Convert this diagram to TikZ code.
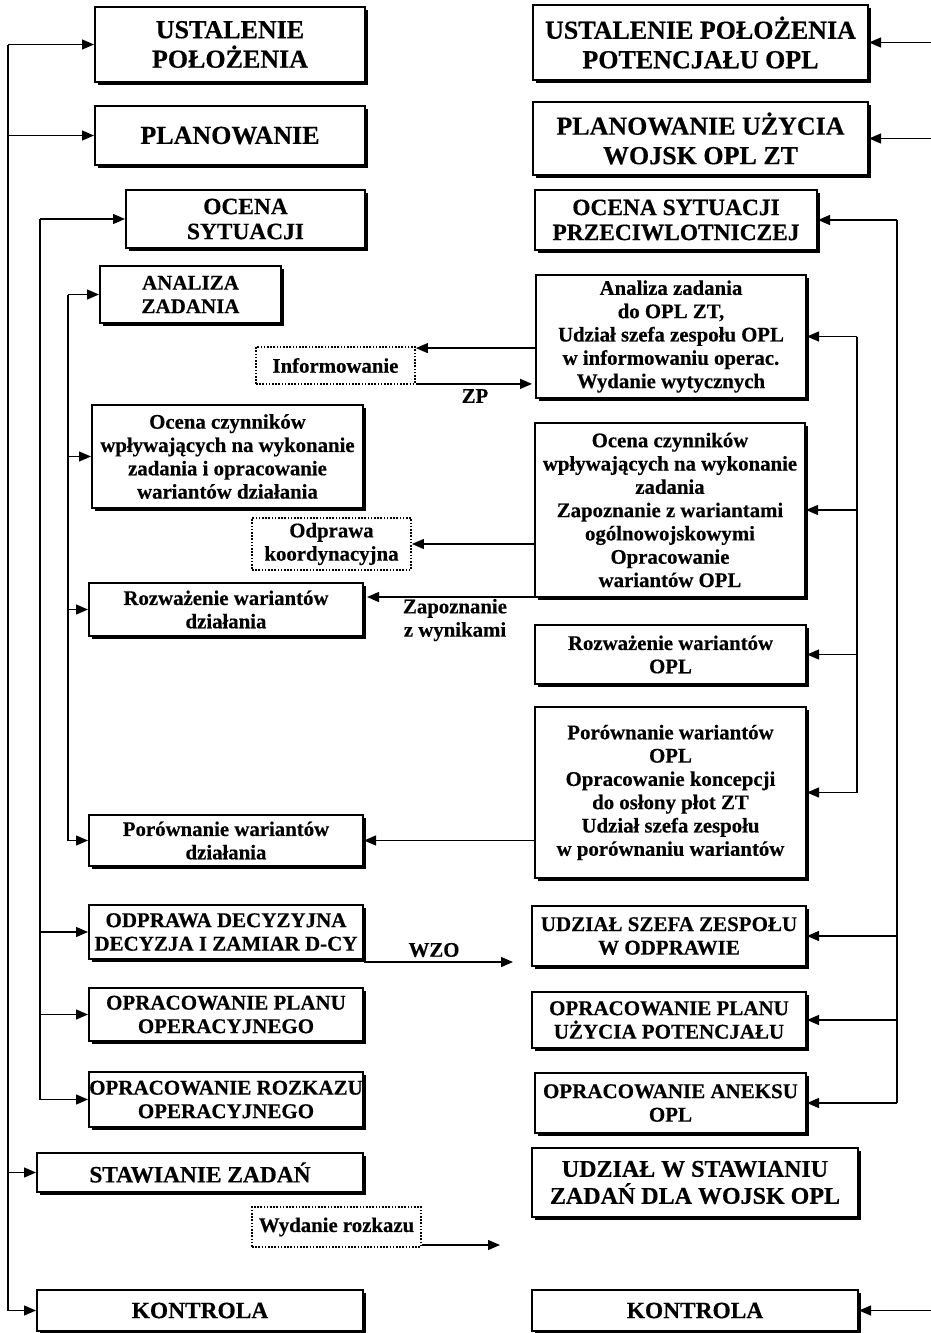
\documentclass[tikz,border=0pt]{standalone}
\usepackage{fontspec}
\setmainfont{Liberation Serif}[BoldFeatures={FakeBold=0.4}]
\usetikzlibrary{arrows.meta,shadows}

% font sizes used in the boxes
\newcommand\szBig{\fontsize{26}{29.5}\selectfont}
\newcommand\szMid{\fontsize{23.4}{25}\selectfont}
\newcommand\szCap{\fontsize{21}{23.5}\selectfont}
\newcommand\szTxt{\fontsize{20.8}{23.3}\selectfont}

\begin{document}
\begin{tikzpicture}[x=1pt,y=-1pt,
  box/.style={draw=black, line width=2pt, fill=white, align=center,
    inner sep=0pt, font=\bfseries,
    general shadow={shadow xshift=2.5pt, shadow yshift=-2.5pt, fill=black, opacity=1}},
  dotbox/.style={draw=black, line width=1.8pt, dash pattern=on 1.6pt off 1.6pt,
    fill=white, align=center, inner sep=0pt, font=\bfseries},
  link/.style={draw=black, line width=1.3pt},
  arr/.style={link, -{Triangle[length=12pt,width=10pt]}},
  lbl/.style={font=\bfseries\szTxt, align=center, inner sep=0pt},
]
\useasboundingbox (0,0) rectangle (930,1333);

% ---------- left column ----------
\node[box, minimum width=270, minimum height=75, font=\bfseries\szBig] (L1) at (230,44.5) {USTALENIE\\POŁOŻENIA};
\node[box, minimum width=270, minimum height=59, font=\bfseries\szBig] (L2) at (230,135.5) {PLANOWANIE};
\node[box, minimum width=239, minimum height=58, font=\bfseries\szMid] (L3) at (245.5,219) {OCENA\\SYTUACJI};
\node[box, minimum width=181, minimum height=57, font=\bfseries\szCap] (L4) at (190.5,294.5) {ANALIZA\\ZADANIA};
\node[dotbox, minimum width=159, minimum height=37, font=\bfseries\szTxt] (L5) at (335.5,365.5) {Informowanie};
\node[box, minimum width=271, minimum height=103, font=\bfseries\szTxt] (L6) at (227.5,456.5) {Ocena czynników\\wpływających na wykonanie\\zadania i opracowanie\\wariantów działania};
\node[dotbox, minimum width=159, minimum height=52, font=\bfseries\szTxt] (L7) at (331.5,544) {Odprawa\\koordynacyjna};
\node[box, minimum width=274, minimum height=53, font=\bfseries\szTxt] (L8) at (226,609.5) {Rozważenie wariantów\\działania};
\node[box, minimum width=274, minimum height=51, font=\bfseries\szTxt] (L9) at (226,840.5) {Porównanie wariantów\\działania};
\node[box, minimum width=274, minimum height=54, font=\bfseries\szCap] (L10) at (226,932) {ODPRAWA DECYZYJNA\\DECYZJA I ZAMIAR D-CY};
\node[box, minimum width=274, minimum height=53, font=\bfseries\szCap] (L11) at (226,1014.5) {OPRACOWANIE PLANU\\OPERACYJNEGO};
\node[box, minimum width=274, minimum height=55, font=\bfseries\szCap] (L12) at (226,1099.5) {OPRACOWANIE ROZKAZU\\OPERACYJNEGO};
\node[box, minimum width=326, minimum height=39, font=\bfseries\szMid] (L13) at (200,1172.5) {STAWIANIE ZADAŃ};
\node[dotbox, minimum width=169, minimum height=40, font=\bfseries\szTxt] (L14) at (336.5,1227) {Wydanie rozkazu};
\node[box, minimum width=326, minimum height=41, font=\bfseries\szMid] (L15) at (200,1310.5) {KONTROLA};

% ---------- right column ----------
\node[box, minimum width=335, minimum height=75, font=\bfseries\szBig] (R1) at (700.5,42.5) {USTALENIE POŁOŻENIA\\POTENCJAŁU OPL};
\node[box, minimum width=335, minimum height=73, font=\bfseries\szBig] (R2) at (700.5,138.5) {PLANOWANIE UŻYCIA\\WOJSK OPL ZT};
\node[box, minimum width=282, minimum height=60, font=\bfseries\szMid] (R3) at (676,220) {OCENA SYTUACJI\\PRZECIWLOTNICZEJ};
\node[box, minimum width=270, minimum height=123, font=\bfseries\szTxt] (R4) at (671,336.5) {Analiza zadania\\do OPL ZT,\\Udział szefa zespołu OPL\\w informowaniu operac.\\Wydanie wytycznych};
\node[box, minimum width=270, minimum height=174, font=\bfseries\szTxt] (R5) at (670,510) {Ocena czynników\\wpływających na wykonanie\\zadania\\Zapoznanie z wariantami\\ogólnowojskowymi\\Opracowanie\\wariantów OPL};
\node[box, minimum width=271, minimum height=59, font=\bfseries\szTxt] (R6) at (670.5,654.5) {Rozważenie wariantów\\OPL};
\node[box, minimum width=271, minimum height=171, font=\bfseries\szTxt] (R7) at (670.5,792.5) {Porównanie wariantów\\OPL\\Opracowanie koncepcji\\do osłony płot ZT\\Udział szefa zespołu\\w porównaniu wariantów};
\node[box, minimum width=274, minimum height=60, font=\bfseries\szCap] (R8) at (669,936) {UDZIAŁ SZEFA ZESPOŁU\\W ODPRAWIE};
\node[box, minimum width=274, minimum height=56, font=\bfseries\szCap] (R9) at (669,1020) {OPRACOWANIE PLANU\\UŻYCIA POTENCJAŁU};
\node[box, minimum width=271, minimum height=60, font=\bfseries\szCap] (R10) at (670.5,1103) {OPRACOWANIE ANEKSU\\OPL};
\node[box, minimum width=326, minimum height=69, font=\bfseries\fontsize{24}{27}\selectfont] (R11) at (695,1182.5) {UDZIAŁ W STAWIANIU\\ZADAŃ DLA WOJSK OPL};
\node[box, minimum width=326, minimum height=41, font=\bfseries\szMid] (R12) at (695,1310.5) {KONTROLA};

% ---------- feedback buses ----------
\coordinate (lo) at (8,0);
\coordinate (lm) at (40,0);
\coordinate (li) at (68,0);
\coordinate (ro) at (931,0);
\coordinate (rm) at (897,0);
\coordinate (ri) at (857,0);

\draw[link] (lo |- L1.west) -- (lo |- L15.west);
\foreach \n in {L1,L2,L13,L15} \draw[arr] (lo |- \n.west) -- (\n.west);
\draw[link] (lm |- L3.west) -- (lm |- L12.west);
\foreach \n in {L3,L10,L11,L12} \draw[arr] (lm |- \n.west) -- (\n.west);
\draw[link] (li |- L4.west) -- (li |- L9.west);
\foreach \n in {L4,L6,L8,L9} \draw[arr] (li |- \n.west) -- (\n.west);

\foreach \n in {R1,R2,R12} \draw[arr] (ro |- \n.east) -- (\n.east);
\draw[link] (rm |- R3.east) -- (rm |- R10.east);
\foreach \n in {R3,R8,R9,R10} \draw[arr] (rm |- \n.east) -- (\n.east);
\draw[link] (ri |- R4.east) -- (ri |- R7.east);
\foreach \n in {R4,R5,R6,R7} \draw[arr] (ri |- \n.east) -- (\n.east);

% ---------- exchanges between the columns ----------
\draw[arr] ([yshift=-2pt]L5.north east -| R4.west) -- ([yshift=-2pt]L5.north east);
\draw[arr, shorten >=3pt] ([yshift=1pt]L5.south east) -- ([yshift=1pt]L5.south east -| R4.west);
\node[lbl] (zp) at (475,396) {ZP};

\draw[arr] (R5.west |- L7.east) -- (L7.east);
\draw[arr, shorten >=3pt] ([yshift=1pt]R5.south west) -- ([yshift=1pt]R5.south west -| L8.east);
\node[lbl] (zap) at (455,620) {Zapoznanie\\z wynikami};

\draw[arr] (R7.west |- L9.east) -- (L9.east);

\coordinate (wzoEnd) at (513,962);
\draw[arr] (L10.east |- wzoEnd) -- (wzoEnd);
\node[lbl] (wzo) at (434,950) {WZO};

\coordinate (rozEnd) at (500,1245);
\draw[arr] (L14.east |- rozEnd) -- (rozEnd);
\end{tikzpicture}
\end{document}
